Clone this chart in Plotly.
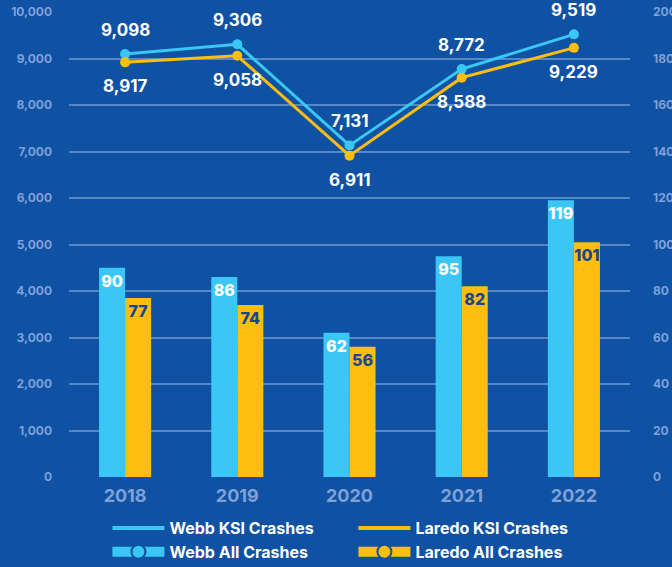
import plotly.graph_objects as go

years = ["2018", "2019", "2020", "2021", "2022"]
webb_ksi = [90, 86, 62, 95, 119]
laredo_ksi = [77, 74, 56, 82, 101]
webb_all = [9098, 9306, 7131, 8772, 9519]
laredo_all = [8917, 9058, 6911, 8588, 9229]

BG = "#0F51A3"
CYAN = "#3BC7F5"
YELLOW = "#FEBE10"
TICK = "#7FA1D8"
DARK = "#15488F"
FONT = "Inter"

fig = go.Figure()

fig.add_trace(go.Bar(x=years, y=webb_ksi, yaxis="y2", marker=dict(color=CYAN, line=dict(width=0)),
                     text=[str(v) for v in webb_ksi], textposition="inside",
                     insidetextanchor="end", constraintext="none", textangle=0,
                     textfont=dict(color="white", size=16, family=FONT, weight=800),
                     showlegend=False, name="Webb KSI Crashes"))
fig.add_trace(go.Bar(x=years, y=laredo_ksi, yaxis="y2", marker=dict(color=YELLOW, line=dict(width=0)),
                     text=[str(v) for v in laredo_ksi], textposition="inside",
                     insidetextanchor="end", constraintext="none", textangle=0,
                     textfont=dict(color=DARK, size=16, family=FONT, weight=800),
                     showlegend=False, name="Laredo KSI Crashes"))

fig.add_trace(go.Scatter(x=years, y=webb_all, mode="lines+markers",
                         line=dict(color=CYAN, width=3), marker=dict(size=10, color=CYAN),
                         showlegend=False, name="Webb All Crashes"))
fig.add_trace(go.Scatter(x=years, y=laredo_all, mode="lines+markers",
                         line=dict(color=YELLOW, width=3), marker=dict(size=10, color=YELLOW),
                         showlegend=False, name="Laredo All Crashes"))

# legend-only traces
fig.add_trace(go.Scatter(x=[None], y=[None], mode="lines", name="Webb KSI Crashes",
                         line=dict(color=CYAN, width=4)))
fig.add_trace(go.Scatter(x=[None], y=[None], mode="lines", name="Laredo KSI Crashes",
                         line=dict(color=YELLOW, width=4)))
fig.add_trace(go.Scatter(x=[None], y=[None], mode="lines+markers", name="Webb All Crashes",
                         line=dict(color=CYAN, width=10),
                         marker=dict(size=14, color=CYAN, line=dict(color=BG, width=2))))
fig.add_trace(go.Scatter(x=[None], y=[None], mode="lines+markers", name="Laredo All Crashes",
                         line=dict(color=YELLOW, width=10),
                         marker=dict(size=14, color=YELLOW, line=dict(color=BG, width=2))))

# category axes: annotations use the serial number of each category
for i, y in enumerate(webb_all):
    fig.add_annotation(x=i, y=y, text=f"{y:,}", showarrow=False, yshift=24,
                       font=dict(color="white", size=17, family=FONT, weight=700))
for i, y in enumerate(laredo_all):
    fig.add_annotation(x=i, y=y, text=f"{y:,}", showarrow=False, yshift=-24,
                       font=dict(color="white", size=17, family=FONT, weight=700))

fig.update_layout(
    width=672, height=567,
    margin=dict(l=69, r=42, t=12, b=90, autoexpand=False),
    paper_bgcolor=BG, plot_bgcolor=BG,
    barmode="group", bargap=0.536, bargroupgap=0,
    font=dict(family=FONT),
    xaxis=dict(type="category", range=[-0.5, 4.5], showgrid=False, zeroline=False,
               showline=False,
               tickfont=dict(color=TICK, size=18, family=FONT, weight=700),
               ticklabelstandoff=6),
    yaxis=dict(range=[0, 10000], dtick=1000, tickformat=",", showgrid=True,
               gridcolor="rgba(150,180,230,0.55)", gridwidth=1.5, zeroline=False,
               tickfont=dict(color=TICK, size=12, family=FONT, weight=700),
               ticklabelstandoff=16),
    yaxis2=dict(range=[0, 200], dtick=20, overlaying="y", side="right", showgrid=False,
                zeroline=False,
                tickfont=dict(color=TICK, size=12, family=FONT, weight=700),
                ticklabelstandoff=22),
    legend=dict(orientation="h", x=0.507, xanchor="center", yref="container",
                y=1 - 511 / 567, yanchor="top",
                bgcolor="rgba(0,0,0,0)", font=dict(color="white", size=16, family=FONT, weight=700),
                itemwidth=52, entrywidth=179, entrywidthmode="pixels",
                tracegroupgap=0),
)

fig.write_html("out.html", config={"displayModeBar": False},
               post_script="document.body.style.margin='0';document.body.style.padding='0';")
